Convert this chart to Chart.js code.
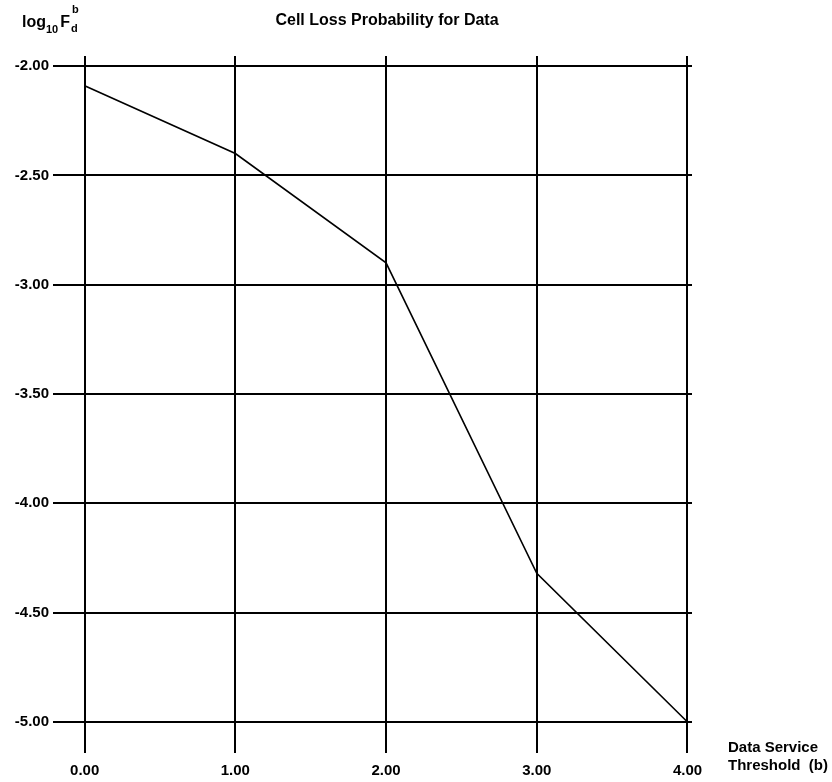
<!DOCTYPE html>
<html>
<head>
<meta charset="utf-8">
<script src="https://cdn.jsdelivr.net/npm/chart.js@4"></script>
<style>
  html, body { margin: 0; padding: 0; background: #fff; }
  #wrap { width: 832px; height: 782px; }
</style>
</head>
<body>
<div id="wrap"><canvas id="lossChart" width="832" height="782"></canvas></div>
<script>
// values
const thresholds = [0, 1, 2, 3, 4];
const logLoss = [-2.09, -2.40, -2.90, -4.32, -5.00];
const xTicks = [0, 1, 2, 3, 4];
const yTicks = [-5.0, -4.5, -4.0, -3.5, -3.0, -2.5, -2.0];

const chartTitle = 'Cell Loss Probability for Data';
const xTitle = ['Data Service', 'Threshold  (b)'];

const FONT = '"Liberation Sans", Arial, sans-serif';

// titles and axis captions, written on the canvas
const captions = {
  id: 'captions',
  afterDraw(chart) {
    const ctx = chart.ctx;
    const area = chart.chartArea;
    ctx.save();
    ctx.fillStyle = '#000';
    ctx.textBaseline = 'alphabetic';

    ctx.font = 'bold 16px ' + FONT;
    ctx.textAlign = 'center';
    ctx.fillText(chartTitle, 387, 25);

    // log10 F d b
    ctx.textAlign = 'left';
    ctx.font = 'bold 16px ' + FONT;
    ctx.fillText('log', 22, 27);
    let x = 22 + ctx.measureText('log').width;
    ctx.font = 'bold 11px ' + FONT;
    ctx.fillText('10', x, 33);
    x += ctx.measureText('10').width + 2;
    ctx.font = 'bold 16px ' + FONT;
    ctx.fillText('F', x, 27);
    x += ctx.measureText('F').width + 1;
    ctx.font = 'bold 11px ' + FONT;
    ctx.fillText('b', x + 1, 13);
    ctx.fillText('d', x, 32);

    // x axis caption, right of the plot
    ctx.font = 'bold 15px ' + FONT;
    ctx.fillText(xTitle[0], area.right + 36, area.bottom - 1);
    ctx.fillText(xTitle[1], area.right + 36, area.bottom + 17);
    ctx.restore();
  }
};

new Chart(document.getElementById('lossChart'), {
  type: 'line',
  data: {
    datasets: [{
      data: thresholds.map((t, i) => ({ x: t, y: logLoss[i] })),
      borderColor: '#000',
      borderWidth: 1.6,
      pointRadius: 0,
      tension: 0,
      fill: false
    }]
  },
  options: {
    responsive: false,
    animation: false,
    layout: { padding: { top: 56, right: 140, left: 0, bottom: 0 } },
    plugins: {
      legend: { display: false },
      title: { display: false },
      tooltip: { enabled: false }
    },
    scales: {
      x: {
        type: 'linear',
        min: -0.21,
        max: 4.03,
        afterBuildTicks: s => { s.ticks = xTicks.map(v => ({ value: v })); },
        afterFit: s => { s.height = 29; },
        border: { display: false },
        grid: { color: '#000', lineWidth: 2, drawTicks: false },
        ticks: {
          color: '#000',
          padding: 9,
          maxRotation: 0,
          font: { family: FONT, size: 15, weight: 'bold' },
          callback: v => v.toFixed(2)
        }
      },
      y: {
        type: 'linear',
        min: -5.142,
        max: -1.954,
        afterBuildTicks: s => { s.ticks = yTicks.map(v => ({ value: v })); },
        afterFit: s => { s.width = 53; },
        border: { display: false },
        grid: { color: '#000', lineWidth: 2, drawTicks: false },
        ticks: {
          color: '#000',
          padding: 4,
          font: { family: FONT, size: 15, weight: 'bold' },
          callback: v => v.toFixed(2)
        }
      }
    }
  },
  plugins: [captions]
});
</script>
</body>
</html>
